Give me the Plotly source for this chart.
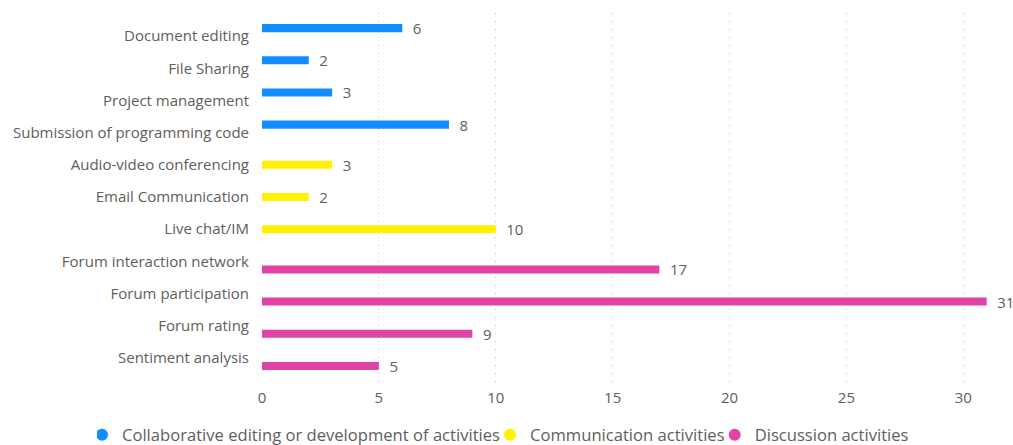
import plotly.graph_objects as go

categories = [
    "Document editing", "File Sharing", "Project management",
    "Submission of programming code", "Audio-video conferencing",
    "Email Communication", "Live chat/IM", "Forum interaction network",
    "Forum participation", "Forum rating", "Sentiment analysis",
]

series_names = [
    "Collaborative editing or development of activities",
    "Communication activities",
    "Discussion activities",
]
collab_values = [6, 2, 3, 8, None, None, None, None, None, None, None]
comm_values = [None, None, None, None, 3, 2, 10, None, None, None, None]
disc_values = [None, None, None, None, None, None, None, 17, 31, 9, 5]

x_ticks = [0, 5, 10, 15, 20, 25, 30]

colors = ["#118DFF", "#FFF100", "#E044A7"]
FONT = "Open Sans"
GREY = "#605E5C"

fig = go.Figure()
for name, vals, col in zip(series_names, [collab_values, comm_values, disc_values], colors):
    fig.add_trace(go.Bar(
        y=categories, x=vals, orientation="h", name=name,
        marker=dict(color=col, line=dict(width=0)),
        texttemplate="\u2002%{x}",
        textposition="outside", cliponaxis=False, constraintext="none",
        textfont=dict(family=FONT, size=15, color=GREY),
        showlegend=False,
    ))
    fig.add_trace(go.Scatter(
        x=[None], y=[None], mode="markers", name=name,
        marker=dict(symbol="circle", size=12, color=col),
        showlegend=True,
    ))

fig.update_layout(
    width=1013, height=445,
    margin=dict(l=262, r=17, t=13, b=63, autoexpand=False),
    paper_bgcolor="white", plot_bgcolor="white",
    barmode="group", bargap=0.25, bargroupgap=0,
    font=dict(family=FONT, size=15, color=GREY),
    xaxis=dict(
        range=[0, 31.4], tickvals=x_ticks, showgrid=True,
        gridcolor="#C0C0C0", griddash="1px,7px", gridwidth=1,
        zeroline=False, showline=False, ticks="", ticklabelstandoff=5,
        tickfont=dict(family=FONT, size=15, color=GREY),
    ),
    yaxis=dict(
        categoryorder="array", categoryarray=categories,
        range=[10.75, -0.72], showgrid=False, zeroline=False,
        ticks="", ticklabelstandoff=12,
        tickfont=dict(family=FONT, size=15, color=GREY),
    ),
    legend=dict(
        orientation="h", xref="paper", yref="paper",
        x=-0.2248, xanchor="left", y=-0.1436, yanchor="middle",
        font=dict(family=FONT, size=16.6, color=GREY),
        itemwidth=30, traceorder="normal", indentation=-15,
    ),
)

fig.write_html("out.html")
